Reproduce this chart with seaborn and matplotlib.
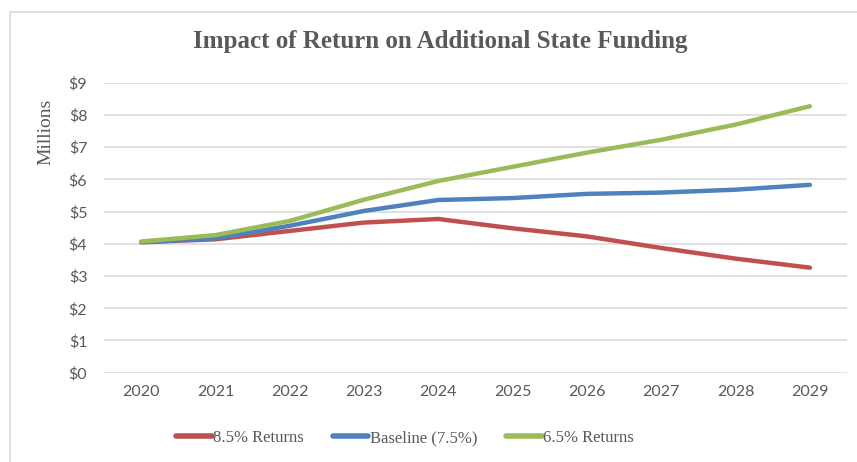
import matplotlib
matplotlib.use("Agg")
import matplotlib.pyplot as plt
import seaborn as sns
import pandas as pd
from matplotlib.patches import Rectangle

years = ["2020", "2021", "2022", "2023", "2024", "2025", "2026", "2027", "2028", "2029"]
returns_85 = [4.05, 4.14, 4.40, 4.66, 4.77, 4.48, 4.23, 3.87, 3.54, 3.26]
baseline_75 = [4.05, 4.17, 4.56, 5.02, 5.36, 5.42, 5.55, 5.59, 5.68, 5.83]
returns_65 = [4.07, 4.27, 4.71, 5.37, 5.95, 6.39, 6.83, 7.23, 7.70, 8.27]
series_names = ["8.5% Returns", "Baseline (7.5%)", "6.5% Returns"]
colors = ["#C0504D", "#4F81BD", "#9BBB59"]
y_ticks = [0, 1, 2, 3, 4, 5, 6, 7, 8, 9]
y_labels = ["$" + str(v) for v in y_ticks]

df = pd.DataFrame({
    "Year": years * 3,
    "Value": returns_85 + baseline_75 + returns_65,
    "Series": [series_names[0]] * 10 + [series_names[1]] * 10 + [series_names[2]] * 10,
})

sns.set_theme(style="white")
plt.rcParams["font.family"] = ["Liberation Serif", "DejaVu Sans"]

fig = plt.figure(figsize=(8.57, 4.62), dpi=100)
ax = fig.add_axes([104 / 857, (462 - 372.7) / 462, 743 / 857, 290 / 462])

sns.lineplot(data=df, x="Year", y="Value", hue="Series", palette=colors,
             hue_order=series_names, linewidth=3.2, ax=ax, sort=False,
             solid_capstyle="round", legend=True)

ax.set_xlim(-0.5, 9.5)
ax.set_ylim(0, 9)
ax.set_yticks(y_ticks)
ax.set_yticklabels(y_labels)
ax.grid(axis="y", color="#D9D9D9", linewidth=1.1)
ax.set_axisbelow(True)
for s in ax.spines.values():
    s.set_visible(False)
ax.tick_params(axis="both", length=0, colors="#595959", labelsize=11.5)
ax.tick_params(axis="y", pad=12)
ax.tick_params(axis="x", pad=9)
for lbl in ax.get_xticklabels() + ax.get_yticklabels():
    lbl.set_fontfamily(["Lato", "DejaVu Sans"])
ax.set_xlabel("")
ax.set_ylabel("")

fig.text(440 / 857, 1 - 48 / 462, "Impact of Return on Additional State Funding",
         ha="center", va="baseline", fontsize=18, fontweight="bold", color="#595959")
fig.text(46 / 857, 1 - 132 / 462, "Millions", rotation=90, ha="center", va="center",
         fontsize=14, color="#595959")

handles, labels = ax.get_legend_handles_labels()
ax.legend(handles, labels, loc="center", bbox_to_anchor=(405 / 857, 1 - 438 / 462),
          bbox_transform=fig.transFigure, ncol=3, frameon=False, fontsize=12,
          handlelength=2.15, handletextpad=0.1, columnspacing=1.7,
          labelcolor="#595959")
for line in ax.get_legend().get_lines():
    line.set_linewidth(4)

fig.patches.append(Rectangle((10 / 857, -0.1), 2, 1 - 12 / 462 + 0.1,
                             transform=fig.transFigure, fill=False,
                             edgecolor="#D9D9D9", linewidth=1.2))

fig.savefig("out.png", dpi=100)
